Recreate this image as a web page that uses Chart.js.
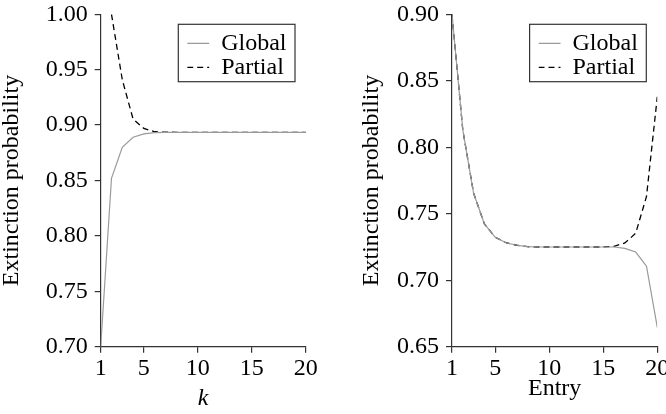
<!DOCTYPE html>
<html><head><meta charset="utf-8">
<script src="https://cdn.jsdelivr.net/npm/chart.js@4.4.1/dist/chart.umd.min.js"></script>
<style>
html,body{margin:0;padding:0;background:#fff;}
#wrap{display:flex;width:666px;height:414px;overflow:hidden;}
.cell{width:333px;height:414px;position:relative;}
canvas{display:block;}
</style></head><body>
<div id="wrap"><div class="cell"><canvas id="c1" width="333" height="414"></canvas></div><div class="cell"><canvas id="c2" width="333" height="414"></canvas></div></div>
<script>
const seriesNames = ['Global', 'Partial'];
const kValues = [1,2,3,4,5,6,7,8,9,10,11,12,13,14,15,16,17,18,19,20];
const leftGlobal = [0.700,0.852,0.880,0.889,0.892,0.8932,0.8935,0.8935,0.8935,0.8935,0.8935,0.8935,0.8935,0.8935,0.8935,0.8935,0.8935,0.8935,0.8935,0.8935];
const leftPartial = [null,1.000,0.941,0.9055,0.897,0.894,0.8936,0.8935,0.8935,0.8935,0.8935,0.8935,0.8935,0.8935,0.8935,0.8935,0.8935,0.8935,0.8935,0.8935];
const entryValues = [1,2,3,4,5,6,7,8,9,10,11,12,13,14,15,16,17,18,19,20];
const rightGlobal = [0.900,0.813,0.7654,0.7423,0.7323,0.7282,0.7263,0.7252,0.725,0.725,0.725,0.725,0.725,0.725,0.725,0.725,0.724,0.7212,0.7105,0.6645];
const rightPartial = [0.900,0.813,0.7654,0.7423,0.7323,0.7282,0.7263,0.7252,0.725,0.725,0.725,0.725,0.725,0.725,0.725,0.7255,0.728,0.7353,0.763,0.838];
const xTicks = [1,5,10,15,20];
const leftYTicks = [0.70,0.75,0.80,0.85,0.90,0.95,1.00];
const rightYTicks = [0.65,0.70,0.75,0.80,0.85,0.90];
const yTitle = 'Extinction probability';
const leftXTitle = 'k';
const rightXTitle = 'Entry';

const FAM = "'Liberation Serif', 'Times New Roman', Times, serif";
const FS = 24;

const legendPlugin = {
  id: 'placeLegend',
  afterLayout(chart) {
    const lg = chart.legend, ca = chart.chartArea;
    const w = lg.width, h = lg.height;
    lg.left = ca.left + 86.5; lg.top = 31.3;
    lg.right = lg.left + w; lg.bottom = lg.top + h;
  },
  afterDraw(chart) {
    const ctx = chart.ctx, ca = chart.chartArea;
    ctx.save();
    ctx.strokeStyle = '#333';
    ctx.lineWidth = 1.2;
    ctx.setLineDash([]);
    ctx.strokeRect(ca.left + 77.6, 24.3, 116.7, 57.4);
    ctx.restore();
  }
};

function legendLabels(chart) {
  const items = Chart.defaults.plugins.legend.labels.generateLabels(chart);
  items.forEach(it => {
    const ds = chart.data.datasets[it.datasetIndex];
    it.lineDash = ds.borderDash || [];
    it.strokeStyle = ds.borderColor;
    it.lineWidth = ds.borderWidth;
  });
  return items;
}

function makeChart(id, xs, g, p, yMin, yMax, yTicks, xTitle, xItalic, cfg) {
  return new Chart(document.getElementById(id), {
    type: 'line',
    data: {
      labels: xs,
      datasets: [
        { label: seriesNames[0], data: xs.map((x,i)=>({x:x, y:g[i]})), borderColor: '#9a9a9a', backgroundColor: '#9a9a9a', borderWidth: 1.2, pointRadius: 0, tension: 0, fill: false },
        { label: seriesNames[1], data: xs.map((x,i)=>({x:x, y:p[i]})), borderColor: '#000', backgroundColor: '#000', borderWidth: 1.3, borderDash: [6,4], pointRadius: 0, tension: 0, fill: false, spanGaps: false }
      ]
    },
    options: {
      responsive: false, animation: false, devicePixelRatio: 1,
      layout: { padding: { left: 0, right: cfg.padRight, top: 14.3, bottom: 0 } },
      plugins: {
        tooltip: { enabled: false },
        legend: {
          position: 'chartArea', align: 'start',
          labels: { usePointStyle: true, pointStyle: 'line', pointStyleWidth: 22, padding: 0, color: '#000', font: { family: FAM, size: FS }, generateLabels: legendLabels }
        }
      },
      scales: {
        x: {
          type: 'linear', min: xs[0], max: xs[xs.length-1],
          afterBuildTicks: s => { s.ticks = xTicks.map(v => ({ value: v })); },
          afterFit: s => { s.height = 67.3; s.paddingLeft = 0; s.paddingRight = 0; },
          ticks: { color: '#000', padding: 1.5, maxRotation: 0, autoSkip: false, font: { family: FAM, size: FS }, callback: v => String(v) },
          grid: { display: true, drawOnChartArea: false, drawTicks: true, tickLength: 6, color: '#333', lineWidth: 1.2 },
          border: { display: true, color: '#333', width: 1.2 },
          title: { display: true, text: xTitle, color: '#000', font: { family: FAM, size: FS, style: xItalic ? 'italic' : 'normal' }, padding: { top: 0, bottom: cfg.xTitlePad } }
        },
        y: {
          type: 'linear', min: yMin, max: yMax,
          afterBuildTicks: s => { s.ticks = yTicks.map(v => ({ value: v })); },
          afterFit: s => { s.width = cfg.yWidth; s.paddingTop = 0; s.paddingBottom = 0; },
          ticks: { color: '#000', padding: 7, font: { family: FAM, size: FS }, callback: v => Number(v).toFixed(2) },
          grid: { display: true, drawOnChartArea: false, drawTicks: true, tickLength: 6, color: '#333', lineWidth: 1.2 },
          border: { display: true, color: '#333', width: 1.2 },
          title: { display: true, text: yTitle, color: '#000', font: { family: FAM, size: FS }, padding: { top: cfg.yTitlePad, bottom: 0 } }
        }
      }
    },
    plugins: [legendPlugin]
  });
}

makeChart('c1', kValues, leftGlobal, leftPartial, 0.70, 1.00, leftYTicks, leftXTitle, true,
  { padRight: 27.3, yWidth: 100.7, yTitlePad: -2.7, xTitlePad: 1.0 });
makeChart('c2', entryValues, rightGlobal, rightPartial, 0.65, 0.90, rightYTicks, rightXTitle, false,
  { padRight: 8.7, yWidth: 119, yTitlePad: 24.2, xTitlePad: 10.7 });
</script>
</body></html>
